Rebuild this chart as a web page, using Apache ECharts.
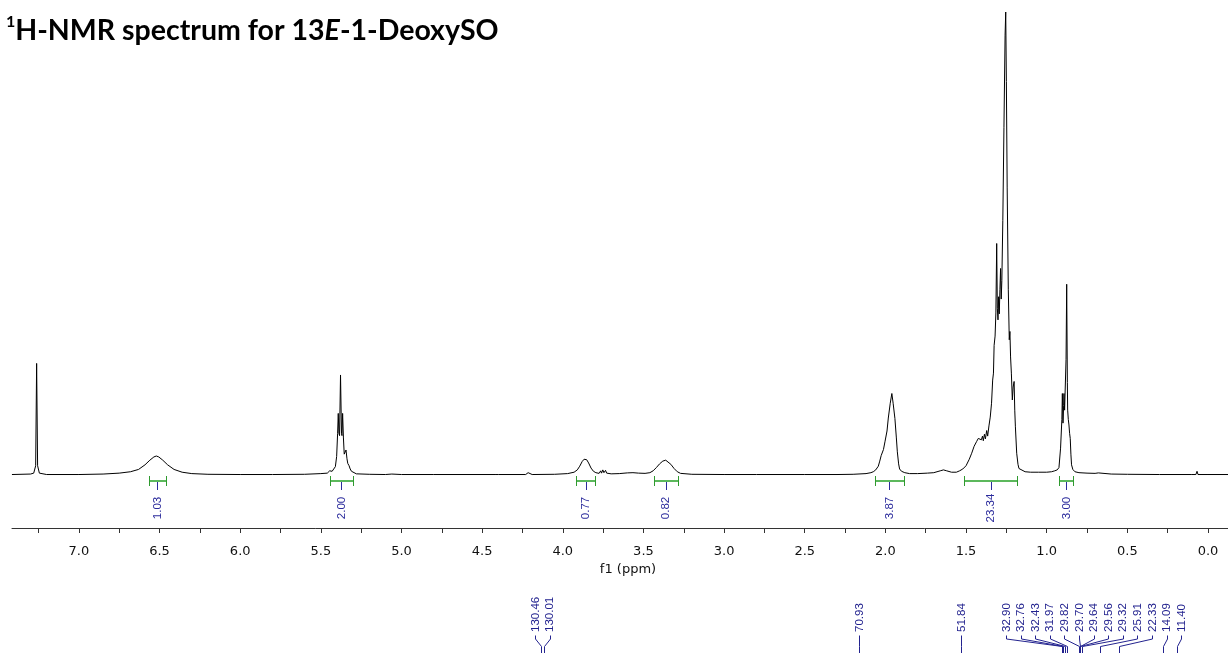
<!DOCTYPE html>
<html>
<head>
<meta charset="utf-8">
<script src="https://cdn.jsdelivr.net/npm/echarts@6/dist/echarts.min.js"></script>
<style>
html,body{margin:0;padding:0;background:#fff;}
#chart{width:1228px;height:653px;}
</style>
</head>
<body>
<div id="chart"></div>
<script>
// ---------- DATA ----------
// 1H spectrum trace (ppm, relative intensity; tallest line = 100)
const spectrumPpm = [
  7.415, 7.30, 7.28, 7.268, 7.262, 7.256, 7.245, 7.20, 7.00, 6.85, 6.75, 6.68, 6.63, 6.59, 6.56, 6.535, 6.52, 6.505, 6.48, 6.45, 6.41, 6.36, 6.30, 6.20, 6.00, 5.80, 5.60, 5.50,
  5.46, 5.445, 5.437, 5.43, 5.42, 5.41, 5.402, 5.396, 5.392, 5.388, 5.384, 5.378, 5.372, 5.369, 5.365, 5.36, 5.355, 5.35, 5.344, 5.338, 5.333, 5.33, 5.325, 5.318, 5.31, 5.298, 5.28, 5.20,
  5.10, 5.06, 5.00, 4.80, 4.60, 4.42, 4.41, 4.40, 4.23, 4.215, 4.205, 4.19, 4.05, 3.97, 3.93, 3.91, 3.895, 3.88, 3.868, 3.861, 3.852, 3.84, 3.825, 3.81, 3.795,
  3.775, 3.765, 3.76, 3.752, 3.745, 3.735, 3.728, 3.70, 3.65, 3.60, 3.565, 3.53, 3.49, 3.46, 3.44, 3.42, 3.40, 3.38, 3.362, 3.35, 3.33, 3.31, 3.29, 3.27, 3.20,
  3.00, 2.80, 2.50, 2.30, 2.20, 2.12, 2.09, 2.075, 2.06, 2.044, 2.035, 2.026, 2.02, 2.012, 2.002, 1.99, 1.982, 1.97, 1.96, 1.952, 1.941, 1.932, 1.926, 1.918, 1.912, 1.90, 1.88, 1.85,
  1.80, 1.74, 1.70, 1.66, 1.64, 1.62, 1.59, 1.56, 1.54, 1.52, 1.50, 1.48, 1.465, 1.45, 1.435, 1.424, 1.414, 1.405, 1.398, 1.393, 1.386, 1.38, 1.372, 1.366, 1.358, 1.35, 1.342,
  1.335, 1.33, 1.326, 1.32, 1.315, 1.31, 1.306, 1.302, 1.298, 1.294, 1.29, 1.286, 1.282, 1.278, 1.272, 1.265, 1.258, 1.254, 1.25, 1.245, 1.238, 1.232, 1.228, 1.224, 1.219,
  1.213, 1.208, 1.202, 1.198, 1.194, 1.186, 1.178, 1.172, 1.16, 1.134, 1.10, 1.05, 1.00, 0.97, 0.95, 0.935, 0.924, 0.914, 0.906, 0.903, 0.899, 0.895, 0.893, 0.889, 0.886,
  0.88, 0.876, 0.872, 0.87, 0.866, 0.862, 0.858, 0.854, 0.85, 0.846, 0.838, 0.825, 0.80, 0.75, 0.70, 0.68, 0.67, 0.60, 0.50, 0.30, 0.10, 0.075, 0.068, 0.062, 0.00, -0.124
];
const spectrumIntensity = [
  0.1, 0.2, 0.4, 2.0, 24.1, 2.0, 0.4, 0.1, 0.1, 0.2, 0.4, 0.7, 1.2, 2.2, 3.2, 3.9, 4.1, 3.9, 3.2, 2.2, 1.2, 0.6, 0.3, 0.15, 0.1, 0.1, 0.15, 0.3,
  0.4, 0.9, 1.3, 0.8, 1.0, 1.8, 4.0, 9.0, 13.3, 9.0, 8.5, 21.6, 9.0, 8.5, 13.3, 8.0, 4.5, 4.2, 5.4, 3.5, 2.5, 2.9, 2.0, 1.3, 0.8, 0.4, 0.25, 0.15,
  0.1, 0.2, 0.1, 0.1, 0.1, 0.1, 0.5, 0.1, 0.1, 0.5, 0.3, 0.1, 0.15, 0.3, 0.6, 1.1, 1.9, 2.9, 3.4, 3.5, 3.3, 2.6, 1.5, 0.8, 0.5,
  0.35, 0.9, 0.4, 1.1, 0.5, 1.0, 0.4, 0.25, 0.3, 0.45, 0.5, 0.4, 0.35, 0.5, 0.9, 1.6, 2.4, 3.0, 3.2, 3.0, 2.3, 1.4, 0.7, 0.35, 0.15,
  0.1, 0.1, 0.1, 0.1, 0.15, 0.3, 0.5, 0.7, 1.1, 1.9, 3.0, 4.2, 4.6, 5.5, 7.3, 9.5, 12.3, 15.5, 17.6, 15.5, 12.2, 8.0, 5.0, 2.4, 1.3, 0.8, 0.5, 0.3,
  0.3, 0.4, 0.5, 0.9, 1.1, 0.9, 0.6, 0.6, 0.9, 1.3, 2.0, 3.4, 4.7, 6.2, 7.2, 7.9, 8.0, 7.6, 8.4, 7.4, 8.8, 7.8, 9.6, 8.4, 10.6, 12.5, 15.5,
  20.5, 22.0, 28.0, 30.0, 35.0, 50.0, 36.0, 33.5, 38.5, 34.8, 40.0, 44.6, 38.0, 42.0, 55.0, 75.0, 95.0, 100.0, 85.0, 62.0, 40.0, 29.2, 31.0, 25.5, 22.0,
  16.2, 19.0, 20.2, 14.0, 10.4, 4.7, 2.3, 1.4, 1.0, 0.7, 0.6, 0.6, 0.6, 0.7, 0.9, 1.1, 1.6, 5.8, 12.0, 17.6, 11.2, 15.0, 17.6, 14.0, 13.7,
  25.0, 41.2, 20.0, 14.0, 12.0, 10.8, 9.0, 7.9, 4.5, 2.2, 1.2, 0.7, 0.5, 0.4, 0.35, 0.45, 0.3, 0.2, 0.15, 0.1, 0.1, 0.1, 0.8, 0.1, 0.1, 0.1
];

// Integrals (ppm range start, end, integral value)
const integralFrom  = [6.565, 5.445, 3.918, 3.437, 2.066, 1.511, 0.921];
const integralTo    = [6.462, 5.300, 3.800, 3.286, 1.886, 1.182, 0.834];
const integralValue = ['1.03', '2.00', '0.77', '0.82', '3.87', '23.34', '3.00'];

// 13C peak labels (ppm)
const carbonShifts = [130.46, 130.01, 70.93, 51.84, 32.90, 32.76, 32.43, 31.97, 29.82, 29.70, 29.64, 29.56, 29.32, 25.91, 22.33, 14.09, 11.40];

// Axis ticks / labels (ppm)
const tickValues = [0, 0.25, 0.5, 0.75, 1.0, 1.25, 1.5, 1.75, 2.0, 2.25, 2.5, 2.75, 3.0, 3.25, 3.5, 3.75, 4.0, 4.25, 4.5, 4.75, 5.0, 5.25, 5.5, 5.75, 6.0, 6.25, 6.5, 6.75, 7.0, 7.25];
const labelValues = [0, 0.5, 1.0, 1.5, 2.0, 2.5, 3.0, 3.5, 4.0, 4.5, 5.0, 5.5, 6.0, 6.5, 7.0];

// ---------- LAYOUT / STYLE ----------
const H_MIN = -0.124, H_MAX = 7.4147;     // 1H axis range
const C_MIN = 1.91, C_MAX = 229.5;        // hidden 13C axis range
const GRID_LEFT = 12, GRID_RIGHT = 0;
const GRID_W = 1228 - GRID_LEFT - GRID_RIGHT;
const Y_MIN = -11.45, Y_MAX = 100;
const GREEN = '#2f9a2f', GREEN_BAR = '#5cb85c', BLUE = '#2b2b9c', CBLUE = '#23238f';
const LABEL_SPACING_PX = 14.6;

const spectrumData = spectrumPpm.map((p, i) => [p, spectrumIntensity[i]]);
const integralData = integralFrom.map((f, i) => [f, integralTo[i], integralValue[i]]);

// carbon label layout: spread overlapping labels into centred groups
function layoutCarbon(shifts) {
  const ppmPerPx = (C_MAX - C_MIN) / GRID_W;
  const sp = LABEL_SPACING_PX * ppmPerPx;
  const u = shifts.map(s => -s).sort((a, b) => a - b); // left-to-right
  let groups = u.map(v => ({ items: [v], center: v }));
  let changed = true;
  while (changed) {
    changed = false;
    for (let i = 0; i < groups.length - 1; i++) {
      const a = groups[i], b = groups[i + 1];
      const aRight = a.center + (a.items.length - 1) / 2 * sp;
      const bLeft = b.center - (b.items.length - 1) / 2 * sp;
      if (bLeft - aRight < sp) {
        const items = a.items.concat(b.items);
        const center = items.reduce((s, v) => s + v, 0) / items.length;
        groups.splice(i, 2, { items, center });
        changed = true;
        break;
      }
    }
  }
  const out = [];
  groups.forEach(g => {
    g.items.forEach((v, k) => {
      const lp = g.center + (k - (g.items.length - 1) / 2) * sp;
      out.push([-v, -lp]);
    });
  });
  return out;
}
const carbonData = layoutCarbon(carbonShifts);

const px = v => Math.round(v) + 0.5;

function renderIntegral(params, api) {
  const from = api.value(0), to = api.value(1);
  const text = integralValue[params.dataIndex];
  const mid = (from + to) / 2;
  const a = api.coord([from, -1.3]), b = api.coord([to, -1.3]);
  const capT = api.coord([from, -0.3])[1], capB = api.coord([from, -2.3])[1];
  const m = api.coord([mid, -1.3]), mEnd = api.coord([mid, -3.25]);
  const t = api.coord([mid, -7.13]);
  const ay = Math.round(a[1]);
  const xa = Math.round(a[0]), xb = Math.round(b[0]);
  return {
    type: 'group',
    children: [
      { type: 'rect', shape: { x: Math.round(m[0]), y: ay, width: 1, height: Math.round(mEnd[1]) - ay }, style: { fill: BLUE } },
      { type: 'rect', shape: { x: xa, y: ay - 1, width: xb - xa + 1, height: 2 }, style: { fill: GREEN_BAR } },
      { type: 'rect', shape: { x: xa, y: Math.round(capT), width: 1, height: Math.round(capB) - Math.round(capT) }, style: { fill: GREEN } },
      { type: 'rect', shape: { x: xb, y: Math.round(capT), width: 1, height: Math.round(capB) - Math.round(capT) }, style: { fill: GREEN } },
      { type: 'text', x: m[0] + 0.5, y: t[1], rotation: Math.PI / 2,
        style: { text: text, fill: BLUE, fontFamily: 'Liberation Sans', fontSize: 11.5, align: 'center', verticalAlign: 'middle' } }
    ]
  };
}

function renderCarbon(params, api) {
  const shift = api.value(0), lpos = api.value(1);
  const txt = api.coord([lpos, 21]);
  const p1 = api.coord([lpos, 17.5]);
  const p2 = api.coord([lpos, 14]);
  const p3 = api.coord([shift, 6.5]);
  const p4 = api.coord([shift, 0]);
  return {
    type: 'group',
    children: [
      { type: 'polyline', shape: { points: [[px(p1[0]), p1[1]], [px(p2[0]), p2[1]], [px(p3[0]), p3[1]], [px(p4[0]), p4[1]]] },
        style: { stroke: CBLUE, lineWidth: 1, fill: null } },
      { type: 'text', x: txt[0] + 0.5, y: txt[1], rotation: Math.PI / 2,
        style: { text: shift.toFixed(2), fill: CBLUE, fontFamily: 'Liberation Sans', fontSize: 11.5, align: 'left', verticalAlign: 'middle' } }
    ]
  };
}

const chart = echarts.init(document.getElementById('chart'), null, { renderer: 'canvas' });
chart.setOption({
  animation: false,
  backgroundColor: '#ffffff',
  title: {
    left: 1, top: 9,
    text: '{s|1}{b|H-NMR spectrum for 13}{bi|E}{b|-1-DeoxySO}',
    textStyle: {
      rich: {
        s: { fontFamily: 'Lato', fontWeight: 'bold', fontSize: 16, color: '#000', verticalAlign: 'top', lineHeight: 18 },
        b: { fontFamily: 'Lato', fontWeight: 'bold', fontSize: 28.5, color: '#000', lineHeight: 33 },
        bi: { fontFamily: 'Lato', fontWeight: 'bold', fontStyle: 'italic', fontSize: 28.5, color: '#000', lineHeight: 33 }
      }
    }
  },
  grid: [
    { left: GRID_LEFT, right: GRID_RIGHT, top: 12, bottom: 125, containLabel: false },
    { left: GRID_LEFT, right: GRID_RIGHT, top: 580, bottom: 0, containLabel: false }
  ],
  xAxis: [
    {
      type: 'value', gridIndex: 0, min: H_MIN, max: H_MAX, inverse: true,
      axisLine: { show: true, onZero: false, lineStyle: { color: '#333', width: 1 } },
      axisTick: { show: true, length: 5, inside: false, customValues: tickValues, lineStyle: { color: '#333', width: 1 } },
      axisLabel: { customValues: labelValues, formatter: v => Number(v).toFixed(1), fontFamily: 'DejaVu Sans', fontSize: 13, color: '#111', margin: 17 },
      splitLine: { show: false },
      name: 'f1 (ppm)', nameLocation: 'middle', nameGap: 32,
      nameTextStyle: { fontFamily: 'DejaVu Sans', fontSize: 13, color: '#111', padding: [0, 0, 0, 16] }
    },
    {
      type: 'value', gridIndex: 1, min: C_MIN, max: C_MAX, inverse: true, show: false
    }
  ],
  yAxis: [
    { type: 'value', gridIndex: 0, min: Y_MIN, max: Y_MAX, show: false },
    { type: 'value', gridIndex: 1, min: 0, max: 73, show: false }
  ],
  series: [
    {
      type: 'line', xAxisIndex: 0, yAxisIndex: 0, data: spectrumData,
      showSymbol: false, symbol: 'none', smooth: false, silent: true, clip: true,
      lineStyle: { color: '#000', width: 1 }
    },
    {
      type: 'custom', xAxisIndex: 0, yAxisIndex: 0, data: integralData, renderItem: renderIntegral, clip: false, silent: true
    },
    {
      type: 'custom', xAxisIndex: 1, yAxisIndex: 1, data: carbonData, renderItem: renderCarbon, clip: false, silent: true
    }
  ]
});
</script>
</body>
</html>
